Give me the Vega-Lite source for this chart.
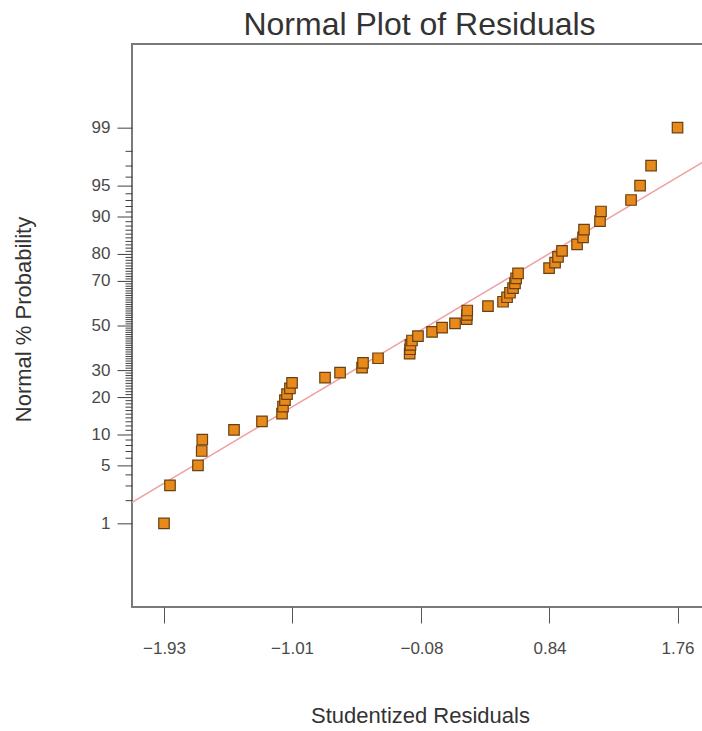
{
  "$schema": "https://vega.github.io/schema/vega-lite/v6.json",
  "width": 571,
  "height": 563,
  "autosize": {"type": "none"},
  "padding": {"left": 132, "top": 44, "right": 0, "bottom": 124},
  "background": "white",
  "config": {
    "view": {"stroke": "#7a7a7a", "strokeWidth": 2},
    "font": "Liberation Sans"
  },
  "title": {
    "text": "Normal Plot of Residuals",
    "fontSize": 32,
    "fontWeight": "normal",
    "color": "#333333",
    "anchor": "middle",
    "dx": 2,
    "offset": 2
  },
  "encoding": {
    "x": {
      "field": "residual",
      "type": "quantitative",
      "scale": {"domain": [-2.16, 1.943], "nice": false, "zero": false},
      "axis": {
        "title": "Studentized Residuals",
        "values": [-1.93, -1.01, -0.08, 0.84, 1.76],
        "format": ".2f",
        "domain": false,
        "grid": false,
        "tickSize": 16,
        "tickColor": "#555555",
        "tickWidth": 1,
        "labelFontSize": 17,
        "labelColor": "#4a4a4a",
        "labelPadding": 17,
        "labelFlush": false,
        "labelOverlap": false,
        "titleFontSize": 22,
        "titleFontWeight": "normal",
        "titleColor": "#333333",
        "titleX": 288,
        "titleY": 108,
        "titleAlign": "center",
        "titleBaseline": "middle"
      }
    },
    "y": {
      "field": "z",
      "type": "quantitative",
      "scale": {"domain": [-3.31, 3.31], "nice": false, "zero": false},
      "axis": {
        "title": "Normal % Probability",
        "values": [-2.3263, -2.0537, -1.8808, -1.7507, -1.6449, -1.5548, -1.4758, -1.4051, -1.3408, -1.2816, -1.2265, -1.175, -1.1264, -1.0803, -1.0364, -0.9945, -0.9542, -0.9154, -0.8779, -0.8416, -0.8064, -0.7722, -0.7388, -0.7063, -0.6745, -0.6433, -0.6128, -0.5828, -0.5534, -0.5244, -0.4959, -0.4677, -0.4399, -0.4125, -0.3853, -0.3585, -0.3319, -0.3055, -0.2793, -0.2533, -0.2275, -0.2019, -0.1764, -0.151, -0.1257, -0.1004, -0.0753, -0.0502, -0.0251, 0, 0.0251, 0.0502, 0.0753, 0.1004, 0.1257, 0.151, 0.1764, 0.2019, 0.2275, 0.2533, 0.2793, 0.3055, 0.3319, 0.3585, 0.3853, 0.4125, 0.4399, 0.4677, 0.4959, 0.5244, 0.5534, 0.5828, 0.6128, 0.6433, 0.6745, 0.7063, 0.7388, 0.7722, 0.8064, 0.8416, 0.8779, 0.9154, 0.9542, 0.9945, 1.0364, 1.0803, 1.1264, 1.175, 1.2265, 1.2816, 1.3408, 1.4051, 1.4758, 1.5548, 1.6449, 1.7507, 1.8808, 2.0537, 2.3263],
        "labelExpr": "datum.value == 2.3263 ? '99' : datum.value == 1.6449 ? '95' : datum.value == 1.2816 ? '90' : datum.value == 0.8416 ? '80' : datum.value == 0.5244 ? '70' : datum.value == 0 ? '50' : datum.value == -0.5244 ? '30' : datum.value == -0.8416 ? '20' : datum.value == -1.2816 ? '10' : datum.value == -1.6449 ? '5' : datum.value == -2.3263 ? '1' : ''",
        "domain": false,
        "grid": false,
        "tickSize": {"condition": {"test": "indexof([2.3263, 1.6449, 1.2816, 0.8416, 0.5244, 0, -0.5244, -0.8416, -1.2816, -1.6449, -2.3263], datum.value) >= 0", "value": 15}, "value": 7},
        "tickColor": "#404040",
        "tickWidth": 1,
        "tickRound": false,
        "labelFontSize": 17,
        "labelColor": "#4a4a4a",
        "labelPadding": 7,
        "labelFlush": false,
        "labelOverlap": false,
        "titleFontSize": 22,
        "titleFontWeight": "normal",
        "titleColor": "#333333",
        "titleX": -109,
        "titleY": 275,
        "titleAngle": -90,
        "titleAlign": "center",
        "titleBaseline": "middle"
      }
    }
  },
  "layer": [
    {
      "data": {"values": [{"residual": -2.16, "z": -2.08, "residual_end": 1.943, "z_end": 1.922}]},
      "mark": {"type": "rule", "color": "#f0a0a0", "strokeWidth": 1.5, "clip": true},
      "encoding": {
        "x2": {"field": "residual_end"},
        "y2": {"field": "z_end"}
      }
    },
    {
      "data": {
        "values": [
          {"residual": -1.930, "pct": 1, "z": -2.3263},
          {"residual": -1.887, "pct": 3, "z": -1.8808},
          {"residual": -1.686, "pct": 5, "z": -1.6449},
          {"residual": -1.659, "pct": 7, "z": -1.4758},
          {"residual": -1.655, "pct": 9, "z": -1.3408},
          {"residual": -1.427, "pct": 11, "z": -1.2265},
          {"residual": -1.226, "pct": 13, "z": -1.1264},
          {"residual": -1.082, "pct": 15, "z": -1.0364},
          {"residual": -1.075, "pct": 17, "z": -0.9542},
          {"residual": -1.061, "pct": 19, "z": -0.8779},
          {"residual": -1.046, "pct": 21, "z": -0.8064},
          {"residual": -1.025, "pct": 23, "z": -0.7388},
          {"residual": -1.010, "pct": 25, "z": -0.6745},
          {"residual": -0.773, "pct": 27, "z": -0.6128},
          {"residual": -0.665, "pct": 29, "z": -0.5534},
          {"residual": -0.507, "pct": 31, "z": -0.4959},
          {"residual": -0.500, "pct": 33, "z": -0.4399},
          {"residual": -0.392, "pct": 35, "z": -0.3853},
          {"residual": -0.165, "pct": 37, "z": -0.3319},
          {"residual": -0.162, "pct": 39, "z": -0.2793},
          {"residual": -0.159, "pct": 41, "z": -0.2275},
          {"residual": -0.148, "pct": 43, "z": -0.1764},
          {"residual": -0.105, "pct": 45, "z": -0.1257},
          {"residual": -0.004, "pct": 47, "z": -0.0753},
          {"residual": 0.068, "pct": 49, "z": -0.0251},
          {"residual": 0.161, "pct": 51, "z": 0.0251},
          {"residual": 0.245, "pct": 53, "z": 0.0753},
          {"residual": 0.247, "pct": 55, "z": 0.1257},
          {"residual": 0.249, "pct": 57, "z": 0.1764},
          {"residual": 0.398, "pct": 59, "z": 0.2275},
          {"residual": 0.506, "pct": 61, "z": 0.2793},
          {"residual": 0.535, "pct": 63, "z": 0.3319},
          {"residual": 0.556, "pct": 65, "z": 0.3853},
          {"residual": 0.578, "pct": 67, "z": 0.4399},
          {"residual": 0.592, "pct": 69, "z": 0.4959},
          {"residual": 0.600, "pct": 71, "z": 0.5534},
          {"residual": 0.614, "pct": 73, "z": 0.6128},
          {"residual": 0.837, "pct": 75, "z": 0.6745},
          {"residual": 0.880, "pct": 77, "z": 0.7388},
          {"residual": 0.901, "pct": 79, "z": 0.8064},
          {"residual": 0.930, "pct": 81, "z": 0.8779},
          {"residual": 1.038, "pct": 83, "z": 0.9542},
          {"residual": 1.081, "pct": 85, "z": 1.0364},
          {"residual": 1.088, "pct": 87, "z": 1.1264},
          {"residual": 1.203, "pct": 89, "z": 1.2265},
          {"residual": 1.210, "pct": 91, "z": 1.3408},
          {"residual": 1.426, "pct": 93, "z": 1.4758},
          {"residual": 1.491, "pct": 95, "z": 1.6449},
          {"residual": 1.570, "pct": 97, "z": 1.8808},
          {"residual": 1.760, "pct": 99, "z": 2.3263}
        ]
      },
      "mark": {
        "type": "point",
        "shape": "square",
        "filled": true,
        "size": 110,
        "fill": "#e8891c",
        "stroke": "#6a4012",
        "strokeWidth": 1.2,
        "opacity": 1
      }
    }
  ]
}
